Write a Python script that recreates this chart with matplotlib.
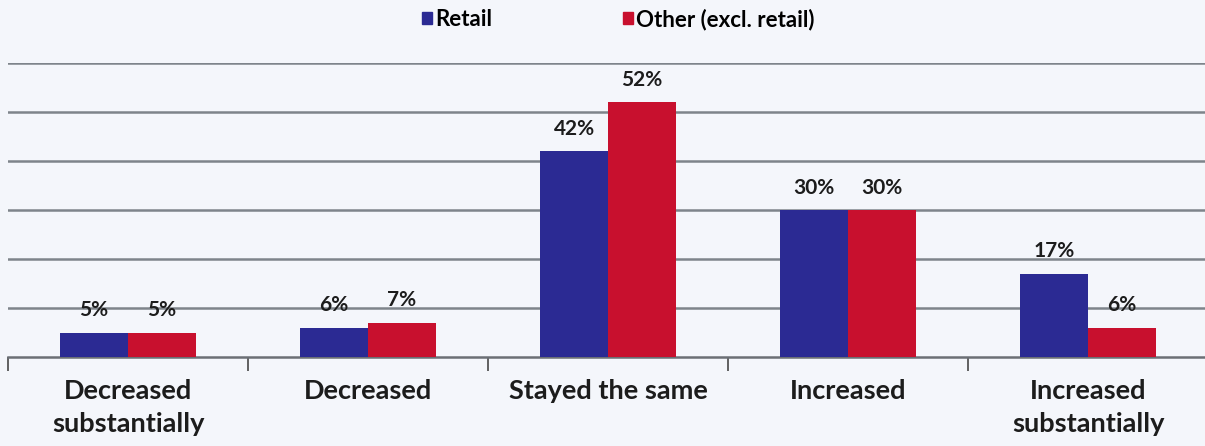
import numpy as np
import matplotlib.pyplot as plt
from matplotlib.patches import Patch

categories = ["Decreased\nsubstantially", "Decreased", "Stayed the same",
              "Increased", "Increased\nsubstantially"]
retail = [5, 6, 42, 30, 17]
other = [5, 7, 52, 30, 6]
series_names = ["Retail", "Other (excl. retail)"]

blue = "#2b2a93"
red = "#c8102e"
bg = "#f4f6fb"
text_col = "#1c1c1c"
font = "Lato"

fig = plt.figure(figsize=(12.05, 4.46), dpi=100, facecolor=bg)
ax = fig.add_axes([8 / 1205, 89 / 446, 1200 / 1205, 294 / 446])
ax.set_facecolor(bg)

x = np.arange(len(categories))
w = 0.283
b1 = ax.bar(x - w / 2, retail, w, color=blue, zorder=3)
b2 = ax.bar(x + w / 2, other, w, color=red, zorder=3)

for bars, vals in ((b1, retail), (b2, other)):
    for rect, v in zip(bars, vals):
        ax.annotate(f"{v}%", (rect.get_x() + rect.get_width() / 2, v),
                    xytext=(0, 9), textcoords="offset points",
                    ha="center", va="bottom", fontsize=15, fontweight="bold",
                    family=font, color=text_col, zorder=4)

ax.set_xlim(-0.5, len(categories) - 0.5)
ax.set_ylim(0, 60)
ax.set_yticks(np.arange(10, 61, 10))
ax.yaxis.grid(True, color="#7e848b", linewidth=1.8, zorder=0)
ax.tick_params(axis="y", left=False, labelleft=False)

# category labels centred, tick marks on the boundaries
ax.set_xticks(x)
ax.set_xticklabels(categories, fontsize=19.5, fontweight="bold", family=font,
                   color=text_col, linespacing=1.45)
ax.tick_params(axis="x", length=0, pad=16)
ax.set_xticks(np.arange(-0.5, len(categories), 1), minor=True)
ax.tick_params(axis="x", which="minor", length=10, width=1.3, color="#555555")

for s in ("top", "right", "left"):
    ax.spines[s].set_visible(False)
ax.spines["bottom"].set_color("#6b6f75")
ax.spines["bottom"].set_linewidth(1.8)

handles = [Patch(color=blue), Patch(color=red)]
fig.legend(handles, series_names, loc="center", bbox_to_anchor=(0.513, 0.957),
           ncol=2, frameon=False, handlelength=0.45, handleheight=0.45,
           handletextpad=0.15, columnspacing=5.9,
           prop={"family": font, "weight": "bold", "size": 16})

fig.savefig("out.png", dpi=100, facecolor=bg)
